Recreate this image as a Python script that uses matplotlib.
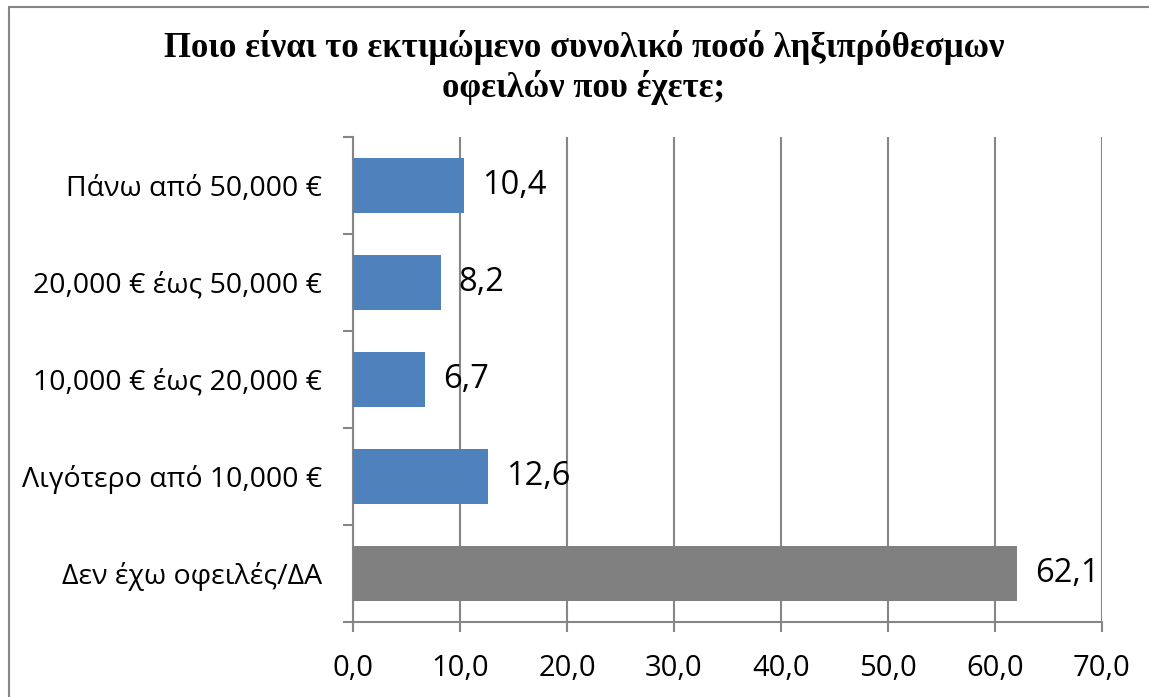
import matplotlib.pyplot as plt
import matplotlib.patches as mpatches
from matplotlib.ticker import FuncFormatter

# categories from bottom to top, as drawn
categories = ["Δεν έχω οφειλές/ΔΑ", "Λιγότερο από 10,000 €", "10,000 € έως 20,000 €",
              "20,000 € έως 50,000 €", "Πάνω από 50,000 €"]
values = [62.1, 12.6, 6.7, 8.2, 10.4]
bar_colors = ["#808080", "#4F81BD", "#4F81BD", "#4F81BD", "#4F81BD"]
x_ticks = [0, 10, 20, 30, 40, 50, 60, 70]

title_lines = ["Ποιο είναι το εκτιμώμενο συνολικό ποσό ληξιπρόθεσμων", "οφειλών που έχετε;"]

SANS = ["Open Sans", "DejaVu Sans"]
GRID = "#868686"


def comma(v, pos=None):
    return f"{v:.1f}".replace(".", ",")


fig = plt.figure(figsize=(11.49, 6.97), dpi=100)

# chart area border (right and bottom edges fall outside the picture)
border = mpatches.Rectangle((8.5 / 1149, -0.05), 1.2, 1.05 - 6.5 / 697, transform=fig.transFigure,
                            fill=False, edgecolor=GRID, linewidth=1.5)
fig.patches.append(border)

ax = fig.add_axes([353 / 1149, 75.3 / 697, 749 / 1149, 484.7 / 697])

ypos = list(range(len(categories)))
bars = ax.barh(ypos, values, height=0.57, color=bar_colors, zorder=3)

ax.set_xlim(0, 70)
ax.set_ylim(-0.5, len(categories) - 0.5)
ax.set_xticks(x_ticks)
ax.xaxis.set_major_formatter(FuncFormatter(comma))
ax.set_yticks(ypos)
ax.set_yticklabels(categories, family=SANS, fontsize=20.5)
ax.set_yticks([y - 0.5 for y in range(len(categories) + 1)], minor=True)

ax.tick_params(axis="y", which="major", length=0, pad=22)
ax.tick_params(axis="y", which="minor", length=7, width=1.5, color=GRID, direction="out")
ax.tick_params(axis="x", length=7, width=1.5, color=GRID, direction="out", pad=16, labelsize=21)
for lbl in ax.get_xticklabels():
    lbl.set_family(SANS)

ax.grid(axis="x", color=GRID, linewidth=1.5, zorder=0)
ax.set_axisbelow(True)
for side in ["top", "right"]:
    ax.spines[side].set_visible(False)
for side in ["left", "bottom"]:
    ax.spines[side].set_color(GRID)
    ax.spines[side].set_linewidth(1.5)

for b, v in zip(bars, values):
    ax.annotate(comma(v), (v, b.get_y() + b.get_height() / 2), xytext=(13, 0),
                textcoords="offset points", ha="left", va="center",
                family=SANS, fontsize=23.5, color="black")

for line, y_px in zip(title_lines, [57, 97]):
    fig.text(584 / 1149, 1 - y_px / 697, line, ha="center", va="baseline",
             family="Liberation Serif", fontweight="bold", fontsize=25)

fig.savefig("out.png", dpi=100)
